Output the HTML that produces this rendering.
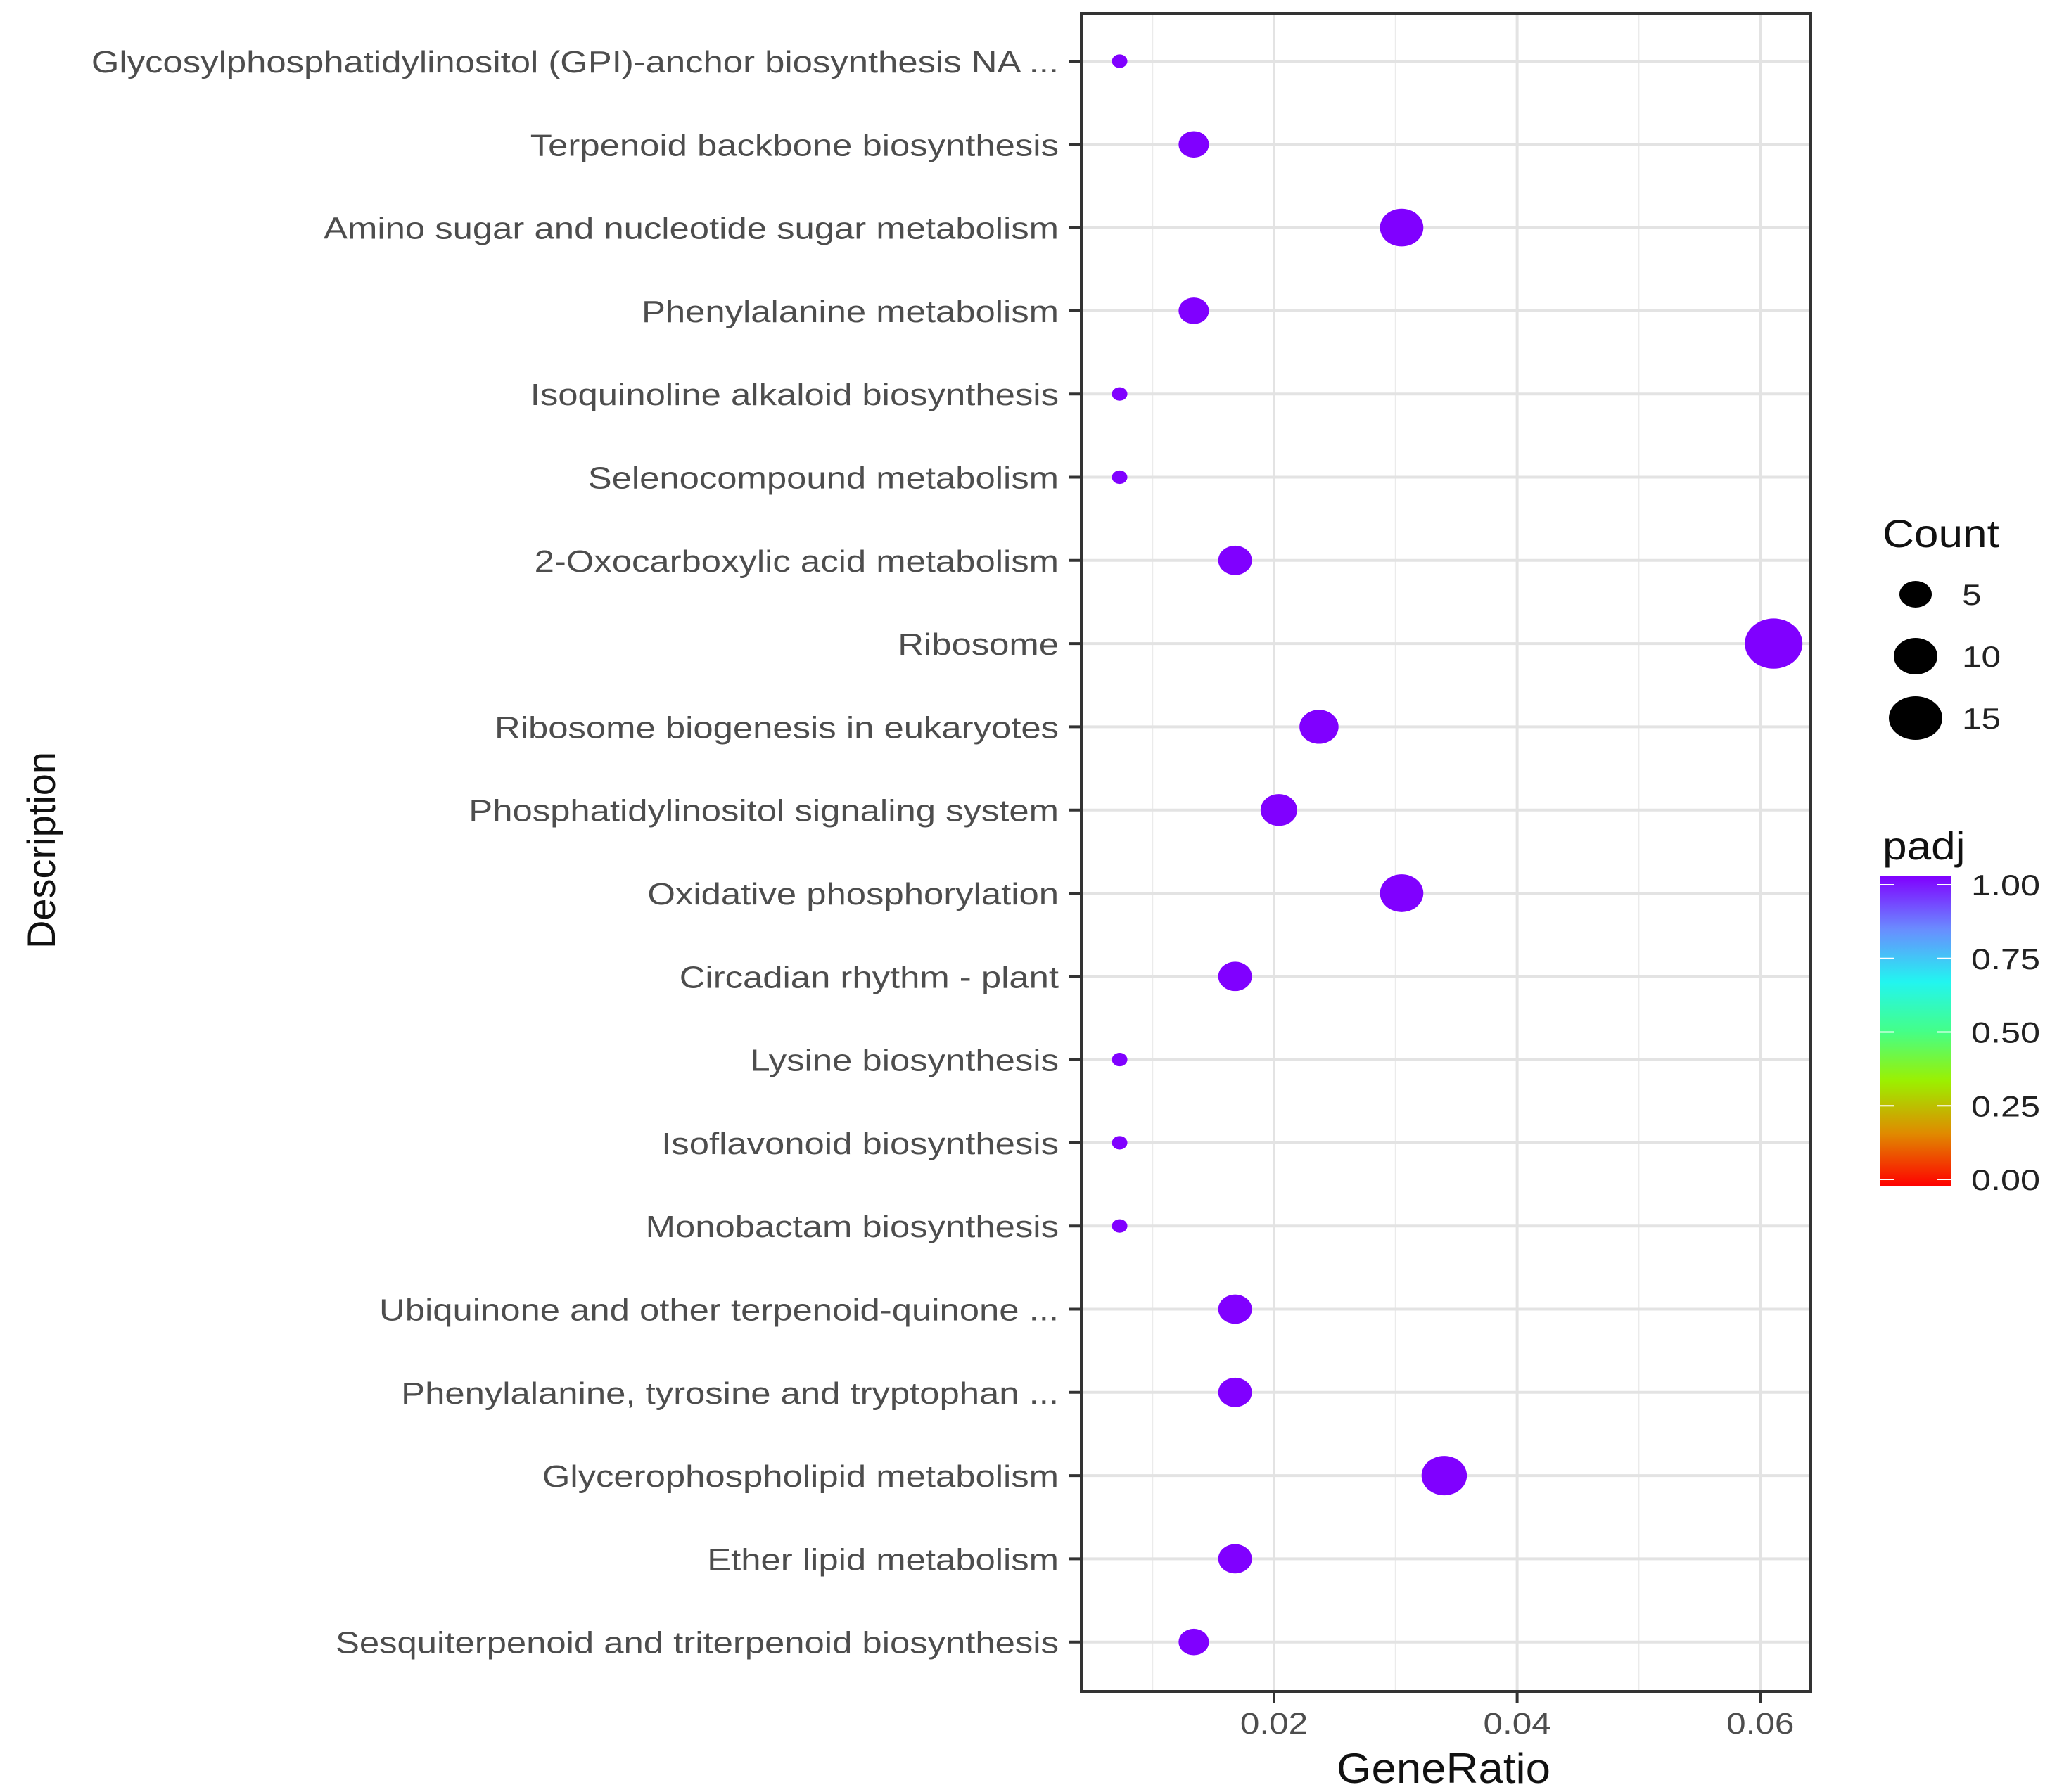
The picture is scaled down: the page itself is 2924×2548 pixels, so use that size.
<!DOCTYPE html>
<html><head><meta charset="utf-8"><style>
html,body{margin:0;padding:0;background:#fff;}
svg{display:block;font-family:"Liberation Sans",sans-serif;}
</style></head><body>
<svg id="chart" width="2924" height="2548" viewBox="0 0 2924 2548" xmlns="http://www.w3.org/2000/svg">
<defs>
<linearGradient id="rb" x1="0" y1="1" x2="0" y2="0">
<stop offset="0" stop-color="#ff0000"/><stop offset="0.17" stop-color="#e08a00"/><stop offset="0.34" stop-color="#9cf000"/><stop offset="0.5" stop-color="#44ff88"/><stop offset="0.66" stop-color="#22f5f0"/><stop offset="0.83" stop-color="#6a8cff"/><stop offset="1" stop-color="#8000ff"/>
</linearGradient>
</defs>
<g id="grid"></g>
<g id="points"></g>
<rect x="1537" y="19" width="1037" height="2386" fill="none" stroke="#333" stroke-width="4"/>
<g id="axes"></g>
<text transform="translate(2052,2535) scale(1.06,1)" font-size="60" text-anchor="middle" fill="#111">GeneRatio</text>
<text transform="translate(78,1209) rotate(-90)" font-size="56" text-anchor="middle" fill="#111">Description</text>
<g>
<text transform="translate(2676,778) scale(1.11,1)" font-size="56" fill="#111">Count</text>
</g>
<g id="countLegend"></g>
<g>
<text transform="translate(2676,1222) scale(1.11,1)" font-size="56" fill="#111">padj</text>
<rect x="2673" y="1246" width="101" height="441" fill="url(#rb)"/>
</g>
<g id="padjLegend"></g>
</svg>
<script>
const categories=["Glycosylphosphatidylinositol (GPI)-anchor biosynthesis NA ...","Terpenoid backbone biosynthesis","Amino sugar and nucleotide sugar metabolism","Phenylalanine metabolism","Isoquinoline alkaloid biosynthesis","Selenocompound metabolism","2-Oxocarboxylic acid metabolism","Ribosome","Ribosome biogenesis in eukaryotes","Phosphatidylinositol signaling system","Oxidative phosphorylation","Circadian rhythm - plant","Lysine biosynthesis","Isoflavonoid biosynthesis","Monobactam biosynthesis","Ubiquinone and other terpenoid-quinone ...","Phenylalanine, tyrosine and tryptophan ...","Glycerophospholipid metabolism","Ether lipid metabolism","Sesquiterpenoid and triterpenoid biosynthesis"];
const geneRatio=[0.0073,0.0134,0.0305,0.0134,0.0073,0.0073,0.0168,0.0611,0.0237,0.0204,0.0305,0.0168,0.0073,0.0073,0.0073,0.0168,0.0168,0.034,0.0168,0.0134];
const counts=[2,4,9,4,2,2,5,18,7,6,9,5,2,2,2,5,5,10,5,4];
const padj=[1,1,1,1,1,1,1,1,1,1,1,1,1,1,1,1,1,1,1,1];
const xTicks=[0.02,0.04,0.06];
const xTickLabels=["0.02","0.04","0.06"];
const xMinor=[0.01,0.03,0.05];
const countLegendValues=[5,10,15];
const padjTicks=[1.00,0.75,0.50,0.25,0.00];
const padjTickLabels=["1.00","0.75","0.50","0.25","0.00"];

const NS="http://www.w3.org/2000/svg";
const L=1537,R=2574,T=19,B=2405;
const x=v=>1811+(v-0.02)*17280;
const y=i=>87+i*118.3;
const rx=c=>11+30*Math.sqrt(Math.max(c-2,0)/16);
const cy=v=>1677-(v)*(1677-1258);
function color(p){const h=p*270;return `hsl(${h},100%,50%)`;}
function mk(tag,attrs,parent){const e=document.createElementNS(NS,tag);for(const k in attrs)e.setAttribute(k,attrs[k]);parent.appendChild(e);return e;}
const grid=document.getElementById('grid'),pts=document.getElementById('points'),axes=document.getElementById('axes');
xMinor.forEach(v=>{const l=mk('line',{x1:x(v),x2:x(v),y1:T,y2:B,stroke:'#ebebeb','stroke-width':2},grid);

});
xTicks.forEach((v,i)=>{const l=mk('line',{x1:x(v),x2:x(v),y1:T,y2:B,stroke:'#e3e3e3','stroke-width':4},grid);


const t=mk('line',{x1:x(v),x2:x(v),y1:B,y2:B+17,stroke:'#333','stroke-width':4},axes);


const tx=mk('text',{transform:`translate(${x(v)},2465) scale(1.15,1)`,'font-size':43,'text-anchor':'middle',fill:'#4d4d4d'},axes);tx.textContent=xTickLabels[i];

});
categories.forEach((c,i)=>{const l=mk('line',{x1:L,x2:R,y1:y(i),y2:y(i),stroke:'#e3e3e3','stroke-width':4},grid);


const t=mk('line',{x1:L-17,x2:L,y1:y(i),y2:y(i),stroke:'#333','stroke-width':4},axes);


const tx=mk('text',{transform:`translate(1505,${y(i)+16}) scale(1.155,1)`,'font-size':44,'text-anchor':'end',fill:'#4d4d4d'},axes);tx.textContent=c;


const r=rx(counts[i]);
const e=mk('ellipse',{cx:x(geneRatio[i]),cy:y(i),rx:r,ry:r*0.87,fill:color(padj[i])},pts);

});
const cl=document.getElementById('countLegend');
countLegendValues.forEach((v,i)=>{const yy=845+i*88;
const e=mk('ellipse',{cx:2723,cy:yy,rx:[23,31,38][i],ry:[19,26,31][i],fill:'#000'},cl);


const t=mk('text',{transform:`translate(2789,${yy+15}) scale(1.18,1)`,'font-size':42,fill:'#222'},cl);t.textContent=v;

});
const pl=document.getElementById('padjLegend');
padjTicks.forEach((v,i)=>{const yy=cy(v);
const a=mk('line',{x1:2673,x2:2693,y1:yy,y2:yy,stroke:'#fff','stroke-width':2},pl);


const b=mk('line',{x1:2754,x2:2774,y1:yy,y2:yy,stroke:'#fff','stroke-width':2},pl);


const t=mk('text',{transform:`translate(2802,${yy+15}) scale(1.2,1)`,'font-size':42,fill:'#222'},pl);t.textContent=padjTickLabels[i];

});
</script>
</body></html>
